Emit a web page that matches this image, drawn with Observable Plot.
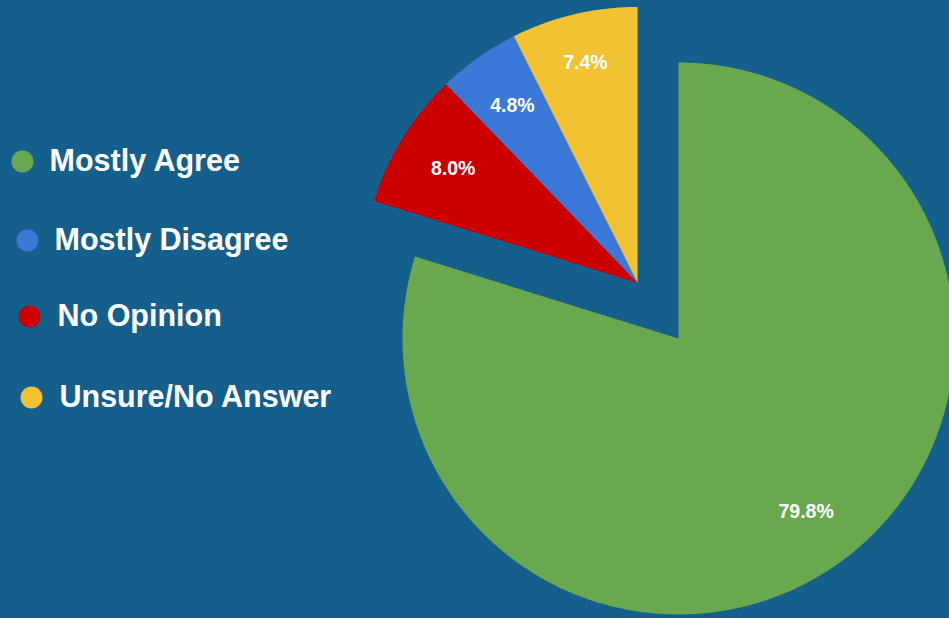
<!DOCTYPE html>
<html><head><meta charset="utf-8">
<script src="https://cdn.jsdelivr.net/npm/d3@7"></script>
<script src="https://cdn.jsdelivr.net/npm/@observablehq/plot@0.6"></script>
<style>
html,body{margin:0;padding:0;background:#155f8c;overflow:hidden;}
</style>
</head><body><div id="chart"></div>
<script>
// ---- data ----
const categories = ["Mostly Agree", "Mostly Disagree", "No Opinion", "Unsure/No Answer"];
const shares = [79.8, 4.8, 8.0, 7.4];
const labels = ["79.8%", "4.8%", "8.0%", "7.4%"];
const colors = ["#6aa84f", "#3c78d8", "#cc0000", "#f1c232"];
// order slices are drawn clockwise from 12 o'clock
const sliceOrder = ["Mostly Agree", "No Opinion", "Mostly Disagree", "Unsure/No Answer"];
const explodedCats = ["No Opinion", "Mostly Disagree", "Unsure/No Answer"];

// ---- layout ----
const W = 949, H = 618;
const cx = 678, cy = 338, R = 276, explodeDist = 69;
const labelFracs = [0.78, 0.785, 0.785, 0.82];
const legendDotX = [22, 27, 29, 31];
const legendTextX = [49, 54, 57, 59];
const legendY = [161, 240, 316, 397];
const FONT = "'Liberation Sans', Arial, sans-serif";

const share = Object.fromEntries(categories.map((c, i) => [c, shares[i]]));
const labelOf = Object.fromEntries(categories.map((c, i) => [c, labels[i]]));
const fracOf = Object.fromEntries(categories.map((c, i) => [c, labelFracs[i]]));
const total = d3.sum(shares);

// angles (clockwise from top, radians)
let acc = 0;
const arcs = sliceOrder.map(c => {
  const a0 = acc / total * 2 * Math.PI;
  acc += share[c];
  const a1 = acc / total * 2 * Math.PI;
  return {cat: c, a0, a1};
});
const exStart = d3.min(arcs.filter(a => explodedCats.includes(a.cat)), a => a.a0);
const exEnd = d3.max(arcs.filter(a => explodedCats.includes(a.cat)), a => a.a1);
const exMid = (exStart + exEnd) / 2;
const exOff = [explodeDist * Math.sin(exMid), -explodeDist * Math.cos(exMid)];

const pts = [];
const labelPts = [];
for (const a of arcs) {
  const off = explodedCats.includes(a.cat) ? exOff : [0, 0];
  const ox = cx + off[0], oy = cy + off[1];
  pts.push({cat: a.cat, x: ox, y: oy});
  const n = Math.max(4, Math.ceil((a.a1 - a.a0) / (Math.PI / 360)));
  for (let i = 0; i <= n; i++) {
    const t = a.a0 + (a.a1 - a.a0) * i / n;
    pts.push({cat: a.cat, x: ox + R * Math.sin(t), y: oy - R * Math.cos(t)});
  }
  pts.push({cat: a.cat, x: ox, y: oy});
  const m = (a.a0 + a.a1) / 2;
  const f = fracOf[a.cat];
  labelPts.push({cat: a.cat, text: labelOf[a.cat], x: ox + f * R * Math.sin(m), y: oy - f * R * Math.cos(m)});
}

const legendRows = categories.map((c, i) => ({cat: c, dx: legendDotX[i], tx: legendTextX[i], y: legendY[i]}));

const chart = Plot.plot({
  width: W, height: H,
  margin: 0,
  style: {background: "#155f8c", fontFamily: FONT},
  x: {domain: [0, W], axis: null},
  y: {domain: [0, H], reverse: true, axis: null},
  color: {domain: categories, range: colors, legend: false},
  marks: [
    Plot.line(pts, {x: "x", y: "y", z: "cat", fill: "cat", stroke: null, curve: "linear"}),
    Plot.text(labelPts, {x: "x", y: "y", text: "text", fill: "white", fontWeight: "bold", fontSize: 19.5, fontFamily: FONT}),
    Plot.dot(legendRows, {x: "dx", y: "y", r: 11, fill: "cat", stroke: null}),
    Plot.text(legendRows, {x: "tx", y: "y", text: "cat", fill: "white", fontWeight: "bold", fontSize: 30.5, textAnchor: "start", fontFamily: FONT})
  ]
});
document.getElementById("chart").appendChild(chart);
</script>
</body></html>
